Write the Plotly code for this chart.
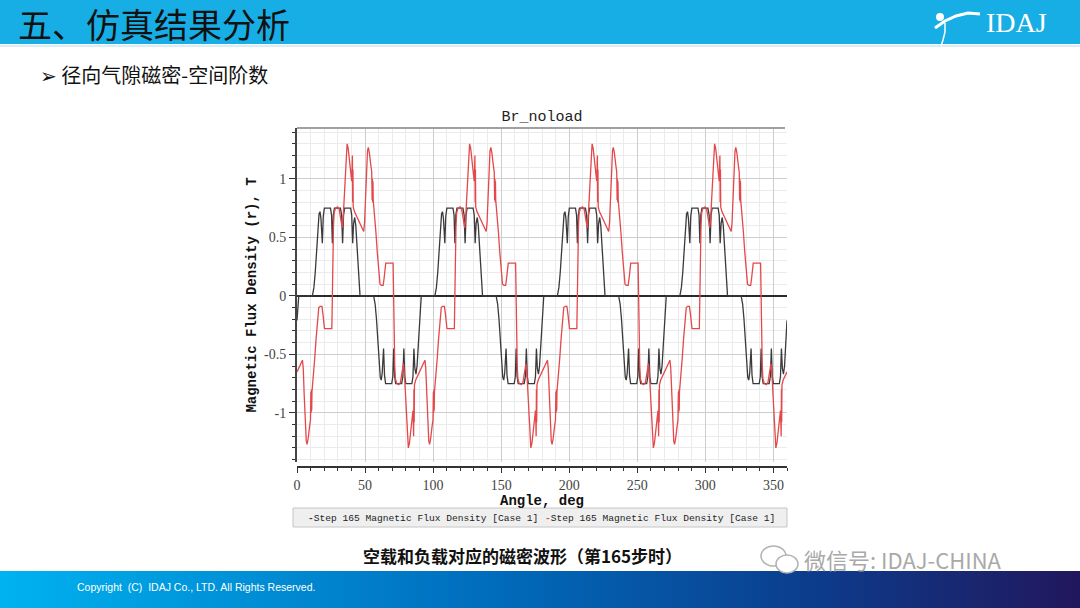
import plotly.graph_objects as go

##########################
########## DATA ##########
##########################

# Step 165, black curve (no-load), angle in deg, one line per pole
noload_deg = [
    0.0, 0.6, 1.3,
    11.3, 12.4, 13.4, 14.4, 15.4, 16.2, 16.9, 17.6, 18.6, 19.3, 20.1, 24.6, 25.4, 26.0, 26.7, 27.5, 31.9, 32.8, 33.5, 34.2, 35.0, 39.4, 40.2, 40.9, 41.6, 42.4, 43.2, 44.1, 44.9, 45.6, 46.3,
    56.3, 57.4, 58.4, 59.4, 60.4, 61.2, 61.9, 62.6, 63.6, 64.3, 65.1, 69.6, 70.4, 71.0, 71.7, 72.5, 76.9, 77.8, 78.5, 79.2, 80.0, 84.4, 85.2, 85.9, 86.6, 87.4, 88.2, 89.1, 89.9, 90.6, 91.3,
    101.3, 102.4, 103.4, 104.4, 105.4, 106.2, 106.9, 107.6, 108.6, 109.3, 110.1, 114.6, 115.4, 116.0, 116.7, 117.5, 121.9, 122.8, 123.5, 124.2, 125.0, 129.4, 130.2, 130.9, 131.6, 132.4, 133.2, 134.1, 134.9, 135.6, 136.3,
    146.3, 147.4, 148.4, 149.4, 150.4, 151.2, 151.9, 152.6, 153.6, 154.3, 155.1, 159.6, 160.4, 161.0, 161.7, 162.5, 166.9, 167.8, 168.5, 169.2, 170.0, 174.4, 175.2, 175.9, 176.6, 177.4, 178.2, 179.1, 179.9, 180.6, 181.3,
    191.3, 192.4, 193.4, 194.4, 195.4, 196.2, 196.9, 197.6, 198.6, 199.3, 200.1, 204.6, 205.4, 206.0, 206.7, 207.5, 211.9, 212.8, 213.5, 214.2, 215.0, 219.4, 220.2, 220.9, 221.6, 222.4, 223.2, 224.1, 224.9, 225.6, 226.3,
    236.3, 237.4, 238.4, 239.4, 240.4, 241.2, 241.9, 242.6, 243.6, 244.3, 245.1, 249.6, 250.4, 251.0, 251.7, 252.5, 256.9, 257.8, 258.5, 259.2, 260.0, 264.4, 265.2, 265.9, 266.6, 267.4, 268.2, 269.1, 269.9, 270.6, 271.3,
    281.3, 282.4, 283.4, 284.4, 285.4, 286.2, 286.9, 287.6, 288.6, 289.3, 290.1, 294.6, 295.4, 296.0, 296.7, 297.5, 301.9, 302.8, 303.5, 304.2, 305.0, 309.4, 310.2, 310.9, 311.6, 312.4, 313.2, 314.1, 314.9, 315.6, 316.3,
    326.3, 327.4, 328.4, 329.4, 330.4, 331.2, 331.9, 332.6, 333.6, 334.3, 335.1, 339.6, 340.4, 341.0, 341.7, 342.5, 346.9, 347.8, 348.5, 349.2, 350.0, 354.4, 355.2, 355.9, 356.6, 357.4, 358.2, 359.1, 360.0,
]
# Br (T)
noload_br = [
    -0.21, -0.08, 0.0,
    0, 0.07, 0.20, 0.38, 0.58, 0.70, 0.72, 0.66, 0.45, 0.68, 0.75, 0.75, 0.69, 0.45, 0.69, 0.75, 0.75, 0.69, 0.45, 0.69, 0.75, 0.75, 0.69, 0.45, 0.62, 0.67, 0.60, 0.42, 0.22, 0.08, 0,
    0, -0.07, -0.20, -0.38, -0.58, -0.70, -0.72, -0.66, -0.45, -0.68, -0.75, -0.75, -0.69, -0.45, -0.69, -0.75, -0.75, -0.69, -0.45, -0.69, -0.75, -0.75, -0.69, -0.45, -0.62, -0.67, -0.60, -0.42, -0.22, -0.08, 0,
    0, 0.07, 0.20, 0.38, 0.58, 0.70, 0.72, 0.66, 0.45, 0.68, 0.75, 0.75, 0.69, 0.45, 0.69, 0.75, 0.75, 0.69, 0.45, 0.69, 0.75, 0.75, 0.69, 0.45, 0.62, 0.67, 0.60, 0.42, 0.22, 0.08, 0,
    0, -0.07, -0.20, -0.38, -0.58, -0.70, -0.72, -0.66, -0.45, -0.68, -0.75, -0.75, -0.69, -0.45, -0.69, -0.75, -0.75, -0.69, -0.45, -0.69, -0.75, -0.75, -0.69, -0.45, -0.62, -0.67, -0.60, -0.42, -0.22, -0.08, 0,
    0, 0.07, 0.20, 0.38, 0.58, 0.70, 0.72, 0.66, 0.45, 0.68, 0.75, 0.75, 0.69, 0.45, 0.69, 0.75, 0.75, 0.69, 0.45, 0.69, 0.75, 0.75, 0.69, 0.45, 0.62, 0.67, 0.60, 0.42, 0.22, 0.08, 0,
    0, -0.07, -0.20, -0.38, -0.58, -0.70, -0.72, -0.66, -0.45, -0.68, -0.75, -0.75, -0.69, -0.45, -0.69, -0.75, -0.75, -0.69, -0.45, -0.69, -0.75, -0.75, -0.69, -0.45, -0.62, -0.67, -0.60, -0.42, -0.22, -0.08, 0,
    0, 0.07, 0.20, 0.38, 0.58, 0.70, 0.72, 0.66, 0.45, 0.68, 0.75, 0.75, 0.69, 0.45, 0.69, 0.75, 0.75, 0.69, 0.45, 0.69, 0.75, 0.75, 0.69, 0.45, 0.62, 0.67, 0.60, 0.42, 0.22, 0.08, 0,
    0, -0.07, -0.20, -0.38, -0.58, -0.70, -0.72, -0.66, -0.45, -0.68, -0.75, -0.75, -0.69, -0.45, -0.69, -0.75, -0.75, -0.69, -0.45, -0.69, -0.75, -0.75, -0.69, -0.45, -0.62, -0.67, -0.60, -0.42, -0.21,
]

# Step 165, red curve (load), angle in deg
load_deg = [
    0.0, 1.7, 3.2, 4.0, 4.6, 5.3, 6.1, 6.8, 7.4, 8.2, 9.2, 9.9, 10.2, 10.4, 10.6, 10.8, 11.0, 12.0, 13.0, 14.0, 15.0, 16.0, 17.0, 18.3, 19.0, 19.6, 20.2, 25.6,
    26.1, 26.4, 26.8, 27.3, 28.3, 29.8, 31.0, 31.9, 32.6, 33.2, 33.9, 34.8, 35.8, 36.8, 37.6, 38.5, 39.4, 40.2, 40.5, 40.7, 40.9, 41.1, 41.3, 42.2, 43.7, 45.2, 46.7, 48.2, 49.0, 49.6, 50.3, 51.1, 51.8, 52.4, 53.2, 54.2, 54.9, 55.2, 55.4, 55.6, 55.8, 56.0, 57.0, 58.0, 59.0, 60.0, 61.0, 62.0, 63.3, 64.0, 64.6, 65.2, 70.6,
    71.1, 71.4, 71.8, 72.3, 73.3, 74.8, 76.0, 76.9, 77.6, 78.2, 78.9, 79.8, 80.8, 81.8, 82.6, 83.5, 84.4, 85.2, 85.5, 85.7, 85.9, 86.1, 86.3, 87.2, 88.7, 90.2, 91.7, 93.2, 94.0, 94.6, 95.3, 96.1, 96.8, 97.4, 98.2, 99.2, 99.9, 100.2, 100.4, 100.6, 100.8, 101.0, 102.0, 103.0, 104.0, 105.0, 106.0, 107.0, 108.3, 109.0, 109.6, 110.2, 115.6,
    116.1, 116.4, 116.8, 117.3, 118.3, 119.8, 121.0, 121.9, 122.6, 123.2, 123.9, 124.8, 125.8, 126.8, 127.6, 128.5, 129.4, 130.2, 130.5, 130.7, 130.9, 131.1, 131.3, 132.2, 133.7, 135.2, 136.7, 138.2, 139.0, 139.6, 140.3, 141.1, 141.8, 142.4, 143.2, 144.2, 144.9, 145.2, 145.4, 145.6, 145.8, 146.0, 147.0, 148.0, 149.0, 150.0, 151.0, 152.0, 153.3, 154.0, 154.6, 155.2, 160.6,
    161.1, 161.4, 161.8, 162.3, 163.3, 164.8, 166.0, 166.9, 167.6, 168.2, 168.9, 169.8, 170.8, 171.8, 172.6, 173.5, 174.4, 175.2, 175.5, 175.7, 175.9, 176.1, 176.3, 177.2, 178.7, 180.2, 181.7, 183.2, 184.0, 184.6, 185.3, 186.1, 186.8, 187.4, 188.2, 189.2, 189.9, 190.2, 190.4, 190.6, 190.8, 191.0, 192.0, 193.0, 194.0, 195.0, 196.0, 197.0, 198.3, 199.0, 199.6, 200.2, 205.6,
    206.1, 206.4, 206.8, 207.3, 208.3, 209.8, 211.0, 211.9, 212.6, 213.2, 213.9, 214.8, 215.8, 216.8, 217.6, 218.5, 219.4, 220.2, 220.5, 220.7, 220.9, 221.1, 221.3, 222.2, 223.7, 225.2, 226.7, 228.2, 229.0, 229.6, 230.3, 231.1, 231.8, 232.4, 233.2, 234.2, 234.9, 235.2, 235.4, 235.6, 235.8, 236.0, 237.0, 238.0, 239.0, 240.0, 241.0, 242.0, 243.3, 244.0, 244.6, 245.2, 250.6,
    251.1, 251.4, 251.8, 252.3, 253.3, 254.8, 256.0, 256.9, 257.6, 258.2, 258.9, 259.8, 260.8, 261.8, 262.6, 263.5, 264.4, 265.2, 265.5, 265.7, 265.9, 266.1, 266.3, 267.2, 268.7, 270.2, 271.7, 273.2, 274.0, 274.6, 275.3, 276.1, 276.8, 277.4, 278.2, 279.2, 279.9, 280.2, 280.4, 280.6, 280.8, 281.0, 282.0, 283.0, 284.0, 285.0, 286.0, 287.0, 288.3, 289.0, 289.6, 290.2, 295.6,
    296.1, 296.4, 296.8, 297.3, 298.3, 299.8, 301.0, 301.9, 302.6, 303.2, 303.9, 304.8, 305.8, 306.8, 307.6, 308.5, 309.4, 310.2, 310.5, 310.7, 310.9, 311.1, 311.3, 312.2, 313.7, 315.2, 316.7, 318.2, 319.0, 319.6, 320.3, 321.1, 321.8, 322.4, 323.2, 324.2, 324.9, 325.2, 325.4, 325.6, 325.8, 326.0, 327.0, 328.0, 329.0, 330.0, 331.0, 332.0, 333.3, 334.0, 334.6, 335.2, 340.6,
    341.1, 341.4, 341.8, 342.3, 343.3, 344.8, 346.0, 346.9, 347.6, 348.2, 348.9, 349.8, 350.8, 351.8, 352.6, 353.5, 354.4, 355.2, 355.5, 355.7, 355.9, 356.1, 356.3, 357.2, 358.7, 360.0,
]
# Br (T)
load_br = [
    -0.65, -0.60, -0.57, -0.55, -0.62, -0.85, -1.12, -1.24, -1.27, -1.22, -1.12, -1.06, -0.82, -1.00, -0.80, -0.98, -0.82, -0.70, -0.54, -0.37, -0.20, -0.10, -0.09, -0.09, -0.15, -0.25, -0.28, -0.28,
    -0.05, 0.30, 0.60, 0.71, 0.75, 0.76, 0.74, 0.68, 0.60, 0.58, 0.66, 0.90, 1.17, 1.30, 1.26, 1.14, 1.04, 0.98, 1.10, 1.20, 0.80, 1.08, 0.76, 0.72, 0.68, 0.65, 0.60, 0.57, 0.55, 0.62, 0.85, 1.12, 1.24, 1.27, 1.22, 1.12, 1.06, 0.82, 1.00, 0.80, 0.98, 0.82, 0.70, 0.54, 0.37, 0.20, 0.10, 0.09, 0.09, 0.15, 0.25, 0.28, 0.28,
    0.05, -0.30, -0.60, -0.71, -0.75, -0.76, -0.74, -0.68, -0.60, -0.58, -0.66, -0.90, -1.17, -1.30, -1.26, -1.14, -1.04, -0.98, -1.10, -1.20, -0.80, -1.08, -0.76, -0.72, -0.68, -0.65, -0.60, -0.57, -0.55, -0.62, -0.85, -1.12, -1.24, -1.27, -1.22, -1.12, -1.06, -0.82, -1.00, -0.80, -0.98, -0.82, -0.70, -0.54, -0.37, -0.20, -0.10, -0.09, -0.09, -0.15, -0.25, -0.28, -0.28,
    -0.05, 0.30, 0.60, 0.71, 0.75, 0.76, 0.74, 0.68, 0.60, 0.58, 0.66, 0.90, 1.17, 1.30, 1.26, 1.14, 1.04, 0.98, 1.10, 1.20, 0.80, 1.08, 0.76, 0.72, 0.68, 0.65, 0.60, 0.57, 0.55, 0.62, 0.85, 1.12, 1.24, 1.27, 1.22, 1.12, 1.06, 0.82, 1.00, 0.80, 0.98, 0.82, 0.70, 0.54, 0.37, 0.20, 0.10, 0.09, 0.09, 0.15, 0.25, 0.28, 0.28,
    0.05, -0.30, -0.60, -0.71, -0.75, -0.76, -0.74, -0.68, -0.60, -0.58, -0.66, -0.90, -1.17, -1.30, -1.26, -1.14, -1.04, -0.98, -1.10, -1.20, -0.80, -1.08, -0.76, -0.72, -0.68, -0.65, -0.60, -0.57, -0.55, -0.62, -0.85, -1.12, -1.24, -1.27, -1.22, -1.12, -1.06, -0.82, -1.00, -0.80, -0.98, -0.82, -0.70, -0.54, -0.37, -0.20, -0.10, -0.09, -0.09, -0.15, -0.25, -0.28, -0.28,
    -0.05, 0.30, 0.60, 0.71, 0.75, 0.76, 0.74, 0.68, 0.60, 0.58, 0.66, 0.90, 1.17, 1.30, 1.26, 1.14, 1.04, 0.98, 1.10, 1.20, 0.80, 1.08, 0.76, 0.72, 0.68, 0.65, 0.60, 0.57, 0.55, 0.62, 0.85, 1.12, 1.24, 1.27, 1.22, 1.12, 1.06, 0.82, 1.00, 0.80, 0.98, 0.82, 0.70, 0.54, 0.37, 0.20, 0.10, 0.09, 0.09, 0.15, 0.25, 0.28, 0.28,
    0.05, -0.30, -0.60, -0.71, -0.75, -0.76, -0.74, -0.68, -0.60, -0.58, -0.66, -0.90, -1.17, -1.30, -1.26, -1.14, -1.04, -0.98, -1.10, -1.20, -0.80, -1.08, -0.76, -0.72, -0.68, -0.65, -0.60, -0.57, -0.55, -0.62, -0.85, -1.12, -1.24, -1.27, -1.22, -1.12, -1.06, -0.82, -1.00, -0.80, -0.98, -0.82, -0.70, -0.54, -0.37, -0.20, -0.10, -0.09, -0.09, -0.15, -0.25, -0.28, -0.28,
    -0.05, 0.30, 0.60, 0.71, 0.75, 0.76, 0.74, 0.68, 0.60, 0.58, 0.66, 0.90, 1.17, 1.30, 1.26, 1.14, 1.04, 0.98, 1.10, 1.20, 0.80, 1.08, 0.76, 0.72, 0.68, 0.65, 0.60, 0.57, 0.55, 0.62, 0.85, 1.12, 1.24, 1.27, 1.22, 1.12, 1.06, 0.82, 1.00, 0.80, 0.98, 0.82, 0.70, 0.54, 0.37, 0.20, 0.10, 0.09, 0.09, 0.15, 0.25, 0.28, 0.28,
    0.05, -0.30, -0.60, -0.71, -0.75, -0.76, -0.74, -0.68, -0.60, -0.58, -0.66, -0.90, -1.17, -1.30, -1.26, -1.14, -1.04, -0.98, -1.10, -1.20, -0.80, -1.08, -0.76, -0.72, -0.68, -0.65,
]

series_name = 'Step 165 Magnetic Flux Density [Case 1]'
y_tickvals = [-1, -0.5, 0, 0.5, 1]
y_ticktext = ['-1', '-0.5', '0', '0.5', '1']

##########################
######### LAYOUT #########
##########################

W, H = 1080, 608
PX_L, PX_R = 297, 787    # plot area, pixels
PX_T, PX_B = 128, 467    # PX_B = x axis line

def px_x(px):
    return (px - PX_L) / (PX_R - PX_L)

def px_y(py):
    return (PX_B - py) / (PX_B - PX_T)

def rect(x0, y0, x1, y1, fill, line=None, width=0):
    return dict(type='rect', xref='paper', yref='paper',
                x0=px_x(x0), x1=px_x(x1), y0=px_y(y0), y1=px_y(y1),
                fillcolor=fill, line=dict(color=line or fill, width=width), layer='below')

def note(text, px, py, size, color='#111', family='Noto Sans CJK SC', anchor='left'):
    return dict(text=text, x=px_x(px), y=px_y(py), xref='paper', yref='paper',
                xanchor=anchor, yanchor='middle', showarrow=False,
                font=dict(family=family, size=size, color=color))

def path(points, color, width):
    d = 'M' + ' L'.join('%f,%f' % (px_x(a), px_y(b)) for a, b in points)
    return dict(type='path', xref='paper', yref='paper', path=d,
                line=dict(color=color, width=width))

def footer_color(t):
    stops = [(0, (0, 178, 240)), (0.45, (0, 108, 188)), (0.75, (12, 60, 140)), (1, (34, 22, 92))]
    for (t0, c0), (t1, c1) in zip(stops, stops[1:]):
        if t <= t1:
            f = (t - t0) / (t1 - t0)
            return 'rgb(%d,%d,%d)' % tuple(round(a + (b - a) * f) for a, b in zip(c0, c1))
    return 'rgb(34,22,92)'

shapes = []
# header band
shapes.append(rect(0, 0, W, 44, '#17aee6'))
shapes.append(rect(0, 45, W, 47, '#d7eef8'))
# footer gradient
for i in range(0, W, 8):
    shapes.append(rect(i, 571, i + 9, H, footer_color(i / W)))
# plot top border
shapes.append(dict(type='line', xref='paper', yref='paper', x0=0, x1=px_x(785),
                   y0=1, y1=1, line=dict(color='#a0a0a0', width=2)))
# legend box
shapes.append(rect(293, 508, 787, 527, '#efefef', '#c6c6c6', 1))
# logo swoosh
shapes.append(path([(935, 28), (945, 21), (956, 16), (968, 13), (980, 14)], 'white', 3))
shapes.append(path([(945, 23), (945, 32), (943, 40), (941, 46)], 'white', 1.5))
shapes.append(dict(type='circle', xref='paper', yref='paper',
                   x0=px_x(936), x1=px_x(944), y0=px_y(13), y1=px_y(21),
                   fillcolor='white', line=dict(color='white', width=0)))
# wechat icon
shapes.append(dict(type='circle', xref='paper', yref='paper',
                   x0=px_x(761), x1=px_x(786), y0=px_y(546), y1=px_y(566),
                   line=dict(color='#b4b4b4', width=1.5)))
shapes.append(dict(type='circle', xref='paper', yref='paper',
                   x0=px_x(776), x1=px_x(798), y0=px_y(555), y1=px_y(573),
                   line=dict(color='#b4b4b4', width=1.5), fillcolor='white'))

annotations = [
    note('五、仿真结果分析', 16, 24, 34, '#111'),
    note('IDAJ', 984, 23, 28, 'white', 'Liberation Serif'),
    note('➢ 径向气隙磁密-空间阶数', 38, 75, 20, '#111', 'Noto Sans CJK SC, DejaVu Sans'),
    note('<b>空载和负载对应的磁密波形（第165步时）</b>', 522, 555, 17, '#111', anchor='center'),
    note('微信号: IDAJ-CHINA', 802, 559, 22, '#a9a9a9'),
    note('Copyright  (C)  IDAJ Co., LTD. All Rights Reserved.', 75, 587, 10.5, 'white', 'Liberation Sans'),
    note("<span style='color:#333333'><b>-</b></span>" + series_name, 423, 518, 9.6, '#222', 'Liberation Mono', 'center'),
    note("<span style='color:#e4484b'><b>-</b></span>" + series_name, 660, 518, 9.6, '#222', 'Liberation Mono', 'center'),
]

##########################
########## PLOT ##########
##########################

fig = go.Figure()
fig.add_trace(go.Scatter(x=noload_deg, y=noload_br, mode='lines', name=series_name,
                         line=dict(color='#3a3a3a', width=1.3), showlegend=False))
fig.add_trace(go.Scatter(x=load_deg, y=load_br, mode='lines', name=series_name,
                         line=dict(color='#e4484b', width=1.3), showlegend=False))

fig.update_layout(
    width=W, height=H,
    margin=dict(l=PX_L, r=W - PX_R, t=PX_T, b=H - PX_B, pad=0),
    paper_bgcolor='white', plot_bgcolor='white',
    title=dict(text='Br_noload', x=0.5, xref='paper', xanchor='center',
               y=1 - 116 / H, yref='container', yanchor='middle',
               font=dict(family='Liberation Mono', size=15, color='#222')),
    xaxis=dict(range=[0, 360], tick0=0, dtick=50, anchor='free', position=0,
               ticks='outside', ticklen=5, tickcolor='#333', tickwidth=1,
               showline=True, linecolor='#333', linewidth=1.5,
               showgrid=True, gridcolor='#cdcdcd', gridwidth=1, zeroline=False,
               minor=dict(dtick=10, ticks='outside', ticklen=3, tickcolor='#333',
                          showgrid=True, gridcolor='#ebebeb'),
               tickfont=dict(family='Liberation Serif', size=14, color='#444'),
               title=dict(text='<b>Angle, deg</b>', standoff=0,
                          font=dict(family='Liberation Mono', size=14, color='#111')),
               automargin=False),
    yaxis=dict(range=[-1.42, 1.435], domain=[0.015, 1],
               tickmode='array', tickvals=y_tickvals, ticktext=y_ticktext,
               ticks='outside', ticklen=6, tickcolor='#333', tickwidth=1,
               showline=True, linecolor='#444', linewidth=2,
               showgrid=True, gridcolor='#cdcdcd', gridwidth=1,
               zeroline=True, zerolinecolor='#2a2a2a', zerolinewidth=2,
               minor=dict(tickmode='linear', tick0=0, dtick=0.1, ticks='outside', ticklen=3,
                          tickcolor='#333', showgrid=True, gridcolor='#ebebeb'),
               tickfont=dict(family='Liberation Serif', size=14, color='#444'),
               title=dict(text='<b>Magnetic Flux Density (r), T</b>', standoff=4,
                          font=dict(family='Liberation Mono', size=14, color='#111')),
               automargin=False),
    shapes=shapes,
    annotations=annotations,
)

# page body has a default 8px margin; drop it so the slide fills the window
fig.write_html('out.html', config={'displayModeBar': False},
               post_script="document.body.style.margin='0';")
